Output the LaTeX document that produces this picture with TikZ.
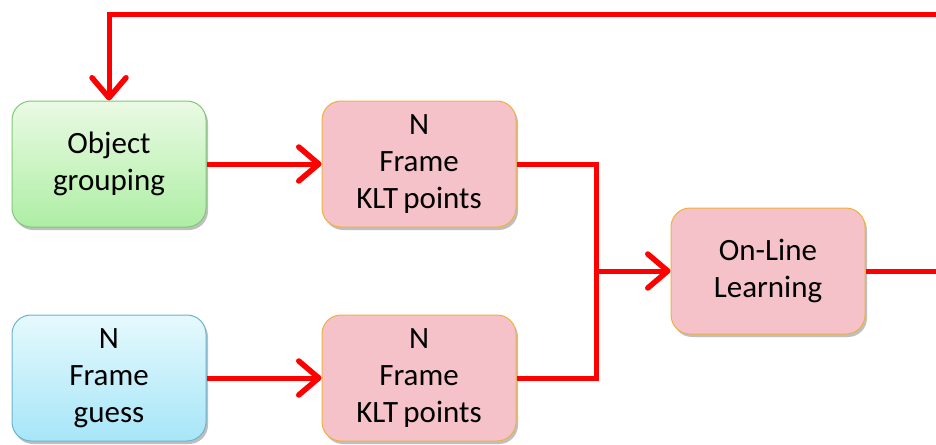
\documentclass[tikz,border=0pt]{standalone}
\usepackage{fontspec}
\setmainfont{Carlito}
\usetikzlibrary{arrows.meta,shadows}
\definecolor{grpTop}{HTML}{EAFAE4}
\definecolor{grpBot}{HTML}{AEEEA4}
\definecolor{grpEdge}{HTML}{80C878}
\definecolor{gssTop}{HTML}{E6F9FD}
\definecolor{gssBot}{HTML}{A6E6F8}
\definecolor{gssEdge}{HTML}{68B4D0}
\definecolor{kltFill}{HTML}{F4C2C8}
\definecolor{kltEdge}{HTML}{F0B040}
\definecolor{flowRed}{HTML}{FF0000}
\tikzset{
  box/.style={rounded corners=19pt, minimum width=194pt, minimum height=126pt,
    align=center, font=\fontsize{31pt}{37pt}\selectfont, text=black,
    line width=1pt, inner sep=0pt,
    drop shadow={shadow xshift=2pt, shadow yshift=-3pt, opacity=0.25, fill=black}},
  greenbox/.style={box, draw=grpEdge, top color=grpTop, bottom color=grpBot},
  bluebox/.style={box, draw=gssEdge, top color=gssTop, bottom color=gssBot},
  pinkbox/.style={box, draw=kltEdge, fill=kltFill},
  flow/.style={draw=flowRed, line width=5pt, line join=miter},
  flowarrow/.style={flow, -{Straight Barb[length=20pt, width=34pt, line width=5.5pt, round]}},
}
\begin{document}
\begin{tikzpicture}[x=1pt, y=-1pt]
\useasboundingbox (0,0) rectangle (936,444);

\node[greenbox] (og)  at (109,164) {Object\\grouping};
\node[bluebox]  (fg)  at (109,378) {N\\Frame\\guess};
\node[pinkbox]  (k1)  at (419,164) {N\\Frame\\KLT\,points};
\node[pinkbox]  (k2)  at (419,378) {N\\Frame\\KLT\,points};
\node[pinkbox]  (oll) at (768,271) {On-Line\\Learning};

\coordinate (j)    at (596,271);
\coordinate (outR) at (940,271);
\coordinate (topR) at (940,15);

\draw[flowarrow] (og.east) -- (k1.west);
\draw[flowarrow] (fg.east) -- (k2.west);
\draw[flow] (k1.east) -| (j) |- (k2.east);
\draw[flowarrow] (j) -- (oll.west);
\draw[flow] (oll.east) -- (outR);
\draw[flowarrow] (topR) -| (og.north);
\end{tikzpicture}
\end{document}
